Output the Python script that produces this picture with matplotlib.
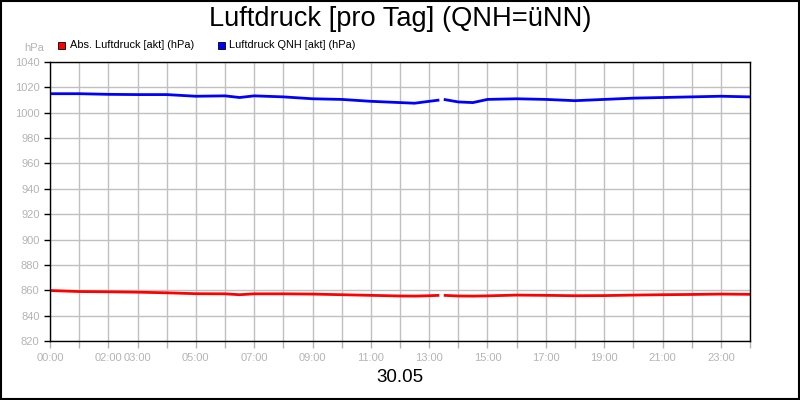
import numpy as np
import matplotlib
matplotlib.use("Agg")
import matplotlib.pyplot as plt
from matplotlib.patches import Rectangle

plt.rcParams['font.family'] = ['Liberation Sans', 'DejaVu Sans']

# Zeit in Stunden, NaN = Datenluecke
hours = [0, 1, 2, 3, 4, 5, 6, 6.5, 7, 8, 9, 10, 11, 12, 12.5, 13, 13.35,
         13.4, 13.5, 14, 14.5, 15, 16, 17, 18, 19, 20, 21, 22, 23, 24]
abs_druck = [859.8, 859.0, 858.8, 858.5, 858.0, 857.3, 857.2, 856.5, 857.2, 857.2,
             857.0, 856.5, 856.0, 855.5, 855.4, 855.7, 856.0,
             np.nan, 856.0, 855.5, 855.4, 855.6, 856.2, 856.0, 855.7, 855.8,
             856.2, 856.5, 856.7, 857.0, 856.8]
qnh_druck = [1015.0, 1015.0, 1014.5, 1014.3, 1014.3, 1013.0, 1013.3, 1012.0, 1013.3,
             1012.5, 1011.0, 1010.5, 1009.0, 1008.0, 1007.5, 1009.0, 1010.0,
             np.nan, 1010.5, 1008.5, 1008.0, 1010.5, 1011.0, 1010.5, 1009.5, 1010.5,
             1011.5, 1012.0, 1012.5, 1013.0, 1012.5]
label_hours = [0, 2, 3, 5, 7, 9, 11, 13, 15, 17, 19, 21, 23]
y_ticks = list(range(820, 1041, 20))

grey = '#b4b4b4'

fig = plt.figure(figsize=(8, 4), dpi=100)
ax = fig.add_axes([0.0625, 0.1475, 0.875, 0.6975])

ax.plot(hours, abs_druck, color='#ff0000', lw=2.0, solid_capstyle='butt')
ax.plot(hours, qnh_druck, color='#0000ff', lw=2.0, solid_capstyle='butt')

ax.set_xlim(0, 24)
ax.set_ylim(820, 1040)
ax.set_yticks(y_ticks)
ax.set_xticks(range(0, 25), minor=True)
ax.set_xticks(label_hours)
ax.set_xticklabels(['%02d:00' % h for h in label_hours])
ax.grid(True, which='both', color='#c0c0c0', lw=1)
ax.set_axisbelow(True)
ax.tick_params(axis='both', which='both', colors=grey, labelsize=8, length=5, width=1)
ax.tick_params(axis='y', colors='black', labelcolor=grey, length=4)
for sp in ax.spines.values():
    sp.set_color('black')
    sp.set_linewidth(1)

fig.text(0.5, 0.952, 'Luftdruck [pro Tag] (QNH=üNN)', ha='center', va='center', fontsize=19.6)
fig.text(0.5, 0.055, '30.05', ha='center', va='center', fontsize=13.5)
fig.text(0.03, 0.88, 'hPa', ha='left', va='center', fontsize=8, color=grey)

# Legende
fig.patches.append(Rectangle((58 / 800, 1 - 49 / 400), 7 / 800, 7 / 400, transform=fig.transFigure,
                             facecolor='#ff0000', edgecolor='black', lw=0.6))
fig.text(70 / 800, 1 - 45 / 400, 'Abs. Luftdruck [akt] (hPa)', va='center', fontsize=7.9)
fig.patches.append(Rectangle((218 / 800, 1 - 49 / 400), 7 / 800, 7 / 400, transform=fig.transFigure,
                             facecolor='#0000ff', edgecolor='black', lw=0.6))
fig.text(229 / 800, 1 - 45 / 400, 'Luftdruck QNH [akt] (hPa)', va='center', fontsize=7.9)

# Rahmen
fig.patches.append(Rectangle((0.001, 0.002), 0.998, 0.996, transform=fig.transFigure,
                             fill=False, edgecolor='black', lw=1.5))

fig.savefig('out.png', dpi=100)
